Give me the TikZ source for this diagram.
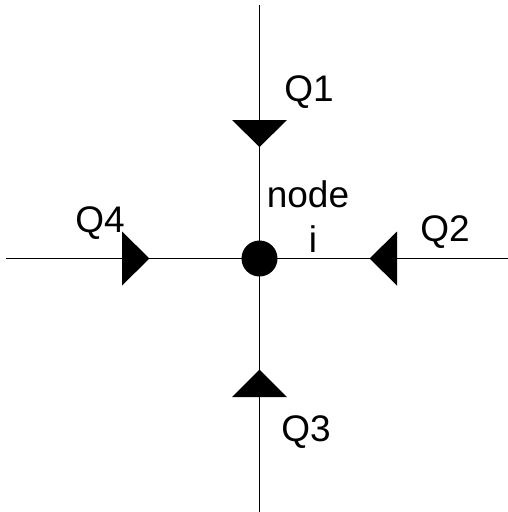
\documentclass[tikz,border=0pt]{standalone}
\usepackage{fontspec}
\setmainfont{Liberation Sans}
\begin{document}
\begin{tikzpicture}[x=1pt,y=-1pt,
  wire/.style={line width=1.6pt},
  tri/.style={fill=black},
  lbl/.style={anchor=base,inner sep=0pt,font=\fontsize{37}{40}\selectfont}]
\useasboundingbox (0,0) rectangle (508,512);
\coordinate (top) at (259.5,5);
\coordinate (bot) at (259.5,512);
\coordinate (left) at (6,258.5);
\coordinate (right) at (508,258.5);
\node[circle,fill=black,minimum size=36pt,inner sep=0pt] (c) at (259.5,258.5) {};
\draw[wire] (top) -- (bot);
\draw[wire] (left) -- (right);
% Q1 down
\fill[tri] (232,120) -- (287,120) -- (259.5,147) -- cycle;
% Q3 up
\fill[tri] (232,397) -- (287,397) -- (259.5,369.5) -- cycle;
% Q4 right
\fill[tri] (122,231.5) -- (122,285.5) -- (149.5,258.5) -- cycle;
% Q2 left
\fill[tri] (397,231.5) -- (397,285.5) -- (369.5,258.5) -- cycle;
\node[lbl] (q1) at (309,101) {Q1};
\node[lbl] (q2) at (445,241) {Q2};
\node[lbl] (q3) at (306,441) {Q3};
\node[lbl] (q4) at (100,232) {Q4};
\node[lbl] (nd) at (308,207.5) {node};
\node[lbl] (ni) at (313,252.5) {i};
\end{tikzpicture}
\end{document}
